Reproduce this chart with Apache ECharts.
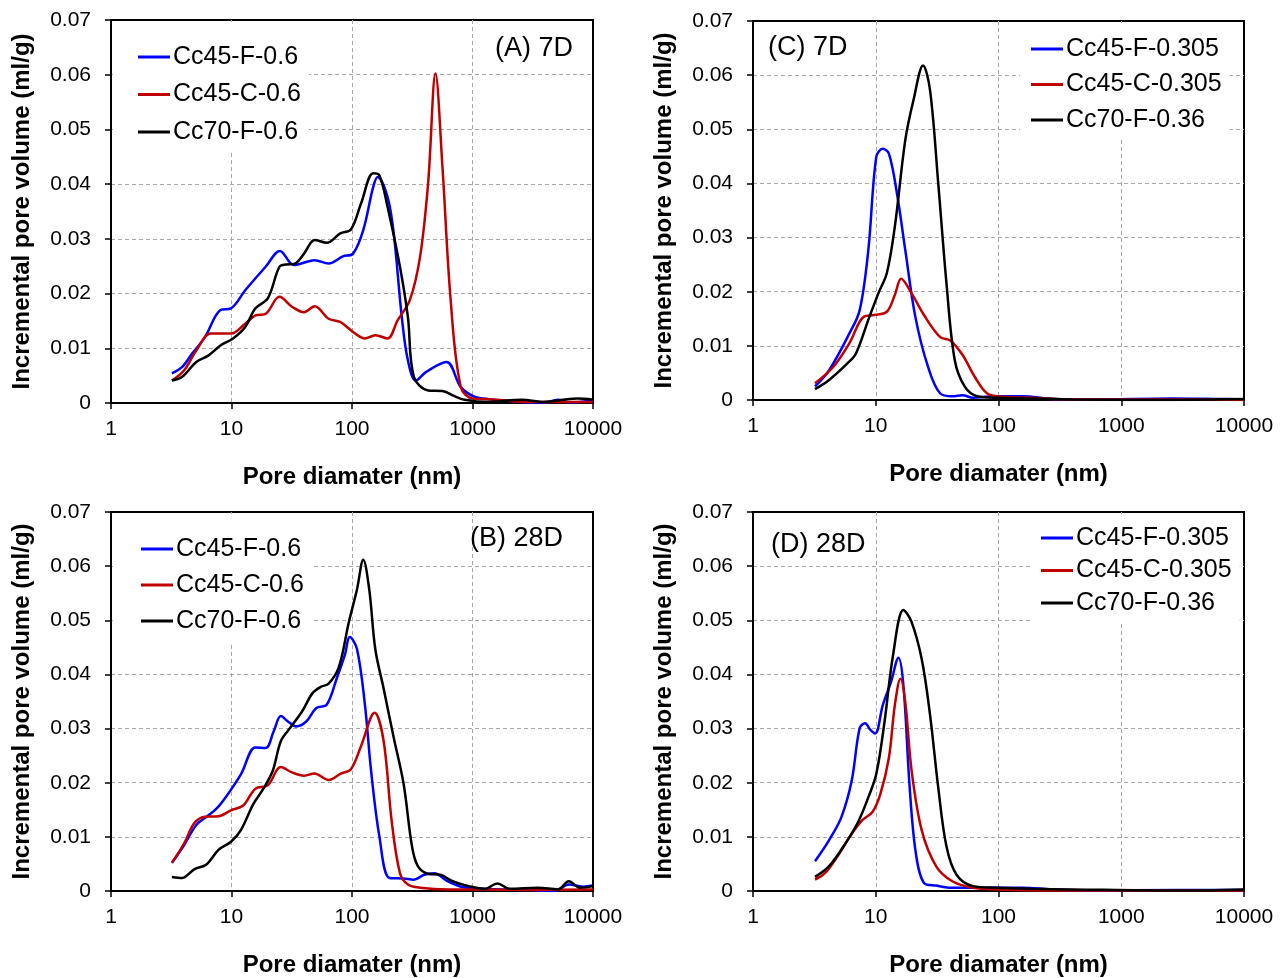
<!DOCTYPE html>
<html>
<head>
<meta charset="utf-8">
<script src="https://cdn.jsdelivr.net/npm/echarts@6/dist/echarts.min.js"></script>
<style>
html,body{margin:0;padding:0;background:#fff;}
#chart{width:1285px;height:978px;}
</style>
</head>
<body>
<div id="chart"></div>
<script>
// ---------- DATA ----------
const xTickLabels = ['1', '10', '100', '1000', '10000'];
const yTickLabels = ['0', '0.01', '0.02', '0.03', '0.04', '0.05', '0.06', '0.07'];

const panelLabels = ['(A) 7D', '(B) 28D', '(C) 7D', '(D) 28D'];
const namesAB = ['Cc45-F-0.6', 'Cc45-C-0.6', 'Cc70-F-0.6'];
const namesCD = ['Cc45-F-0.305', 'Cc45-C-0.305', 'Cc70-F-0.36'];

// Panel A (7D, w/c 0.6)
const A_F = [[3.2,0.0054],[3.9,0.0066],[4.7,0.009],[6.0,0.012],[8.1,0.017],[9.9,0.0173],[13,0.0206],[19.2,0.0249],[25.2,0.0278],[33,0.0252],[49,0.0261],[64,0.0255],[84,0.0268],[102,0.0273],[124,0.0316],[150,0.0395],[163,0.0413],[197,0.0377],[222,0.031],[259,0.0157],[291,0.0078],[339,0.0041],[413,0.0057],[609,0.0075],[800,0.0029],[1050,0.0011],[1380,0.0007],[2570,0.0002],[3800,0.0000],[5130,0.0006],[6470,0.0001],[10000,0.0005]];
const A_C = [[3.2,0.0041],[4.05,0.006],[5.1,0.0096],[6.7,0.0127],[8.1,0.0127],[9.9,0.0127],[13,0.0145],[15.8,0.016],[19.2,0.0163],[25,0.0194],[31.8,0.0176],[40,0.0166],[49,0.0177],[64,0.0154],[80,0.0148],[106,0.0127],[128,0.0118],[156,0.0124],[197,0.0118],[239,0.0151],[302,0.0188],[367,0.0267],[428,0.0401],[493,0.0602],[563,0.0432],[659,0.0188],[800,0.0029],[1010,0.0008],[1380,0.0007],[3000,0.0002],[6470,0.0002],[10000,0.0002]];
const A_70 = [[3.2,0.0041],[3.9,0.0048],[5.1,0.0075],[6.45,0.0087],[8.1,0.0105],[10.3,0.0118],[13,0.0139],[15.8,0.0173],[20,0.0191],[25,0.0249],[28.4,0.0253],[33,0.0254],[40,0.0273],[49,0.0298],[61.7,0.0293],[80,0.031],[98,0.0317],[119,0.0365],[150,0.042],[169,0.0416],[197,0.0359],[250,0.0249],[291,0.0157],[326,0.0048],[428,0.0023],[563,0.0022],[684,0.0014],[860,0.0006],[1380,0.0002],[2570,0.0006],[3800,0.0002],[7370,0.0008],[10000,0.0006]];

// Panel B (28D, w/c 0.6)
const B_F = [[3.2,0.0052],[4.05,0.0085],[5.1,0.0122],[6.2,0.0137],[7.5,0.0152],[9.2,0.0177],[12,0.0216],[15.8,0.0265],[19.2,0.0264],[22.4,0.0295],[25.7,0.0323],[29.4,0.0313],[34.4,0.0304],[41.7,0.0313],[50.6,0.0338],[61.6,0.0344],[74.8,0.0393],[87,0.0435],[96,0.0469],[110,0.0447],[128,0.0344],[144,0.0222],[169,0.01],[205,0.0024],[268,0.0023],[326,0.0021],[397,0.003],[482,0.0033],[609,0.0019],[800,0.0008],[1180,0.0004],[1740,0.0003],[3000,0.0002],[4800,0.0000],[6300,0.0012],[8200,0.0008],[10000,0.001]];
const B_C = [[3.2,0.0052],[4.05,0.0088],[4.9,0.0125],[6.0,0.0137],[7.8,0.0138],[9.9,0.0149],[12.5,0.0158],[15.8,0.0189],[20,0.0195],[25.7,0.0229],[31.8,0.0219],[40,0.0213],[48.7,0.0217],[64,0.0205],[80.6,0.0217],[98,0.0225],[119,0.0268],[154,0.0329],[183,0.0277],[213,0.0131],[250,0.0033],[291,0.0012],[367,0.0006],[634,0.0003],[1380,0.0003],[3000,0.0002],[10000,0.0003]];
const B_70 = [[3.2,0.0026],[3.9,0.0024],[4.9,0.004],[6.2,0.0049],[7.8,0.0076],[9.9,0.0091],[12,0.0113],[15.2,0.0161],[18.4,0.0189],[22,0.0222],[25.7,0.0277],[30.6,0.0301],[38.6,0.0332],[46.9,0.0365],[55,0.0377],[64,0.0383],[77.9,0.0414],[94,0.0496],[110,0.0557],[124,0.0612],[139,0.0557],[156,0.0447],[183,0.0374],[222,0.0283],[268,0.0198],[315,0.0082],[352,0.0046],[428,0.0032],[543,0.003],[684,0.0018],[930,0.0009],[1270,0.0004],[1610,0.0014],[2030,0.0004],[3500,0.0006],[5130,0.0003],[6300,0.0018],[7800,0.0006],[10000,0.0009]];

// Panel C (7D, low w/c)
const C_F = [[3.2,0.0025],[4.17,0.0055],[6.1,0.0123],[7.4,0.0166],[8.7,0.0277],[10.1,0.0449],[11.4,0.0464],[12.8,0.0455],[14.9,0.0381],[17.4,0.0277],[21,0.0154],[26.6,0.0062],[33.5,0.0012],[42,0.0007],[51,0.0009],[62,0.0004],[91,0.0007],[157,0.0007],[270,0.0002],[583,0.0001],[2530,0.0003],[5900,0.0002],[10000,0.0001]];
const C_C = [[3.2,0.0031],[4.5,0.0061],[6.1,0.0105],[8.0,0.0154],[9.7,0.0157],[12.3,0.0163],[14.3,0.0194],[16.1,0.0224],[19.6,0.0197],[24.7,0.0157],[33.5,0.0116],[40.5,0.011],[51,0.0083],[64,0.0043],[81,0.0012],[107,0.0006],[183,0.0004],[396,0.0001],[2750,0.0001],[10000,0.0000]];
const C_70 = [[3.2,0.002],[4.17,0.0037],[5.9,0.0068],[6.9,0.0086],[8.7,0.0148],[10.5,0.0197],[12.3,0.0234],[14.3,0.032],[17.4,0.048],[20.3,0.0554],[24.3,0.0618],[27.7,0.0572],[32.3,0.04],[37.7,0.0215],[44,0.0074],[53,0.0025],[67,0.0007],[98,0.0004],[183,0.0003],[396,0.0001],[1270,0.0000],[10000,0.0002]];

// Panel D (28D, low w/c)
const D_F = [[3.2,0.0055],[4.17,0.0094],[5.26,0.0137],[6.36,0.0203],[7.4,0.0301],[8.2,0.031],[9.0,0.0298],[9.9,0.0291],[11.4,0.0343],[13.3,0.0386],[15.3,0.0431],[16.8,0.038],[18.9,0.0191],[21.2,0.007],[24.7,0.0015],[31,0.001],[42,0.0006],[85,0.0006],[157,0.0006],[270,0.0003],[583,0.0001],[2750,0.0002],[10000,0.0002]];
const D_C = [[3.2,0.0021],[3.86,0.0033],[4.88,0.0064],[6.13,0.01],[7.7,0.013],[9.4,0.0146],[10.9,0.0179],[12.8,0.0246],[14.3,0.0343],[15.9,0.0392],[17.4,0.0349],[19.6,0.0222],[23.7,0.0112],[31,0.0046],[42,0.0018],[62,0.0006],[98,0.0003],[270,0.0001],[10000,0.0001]];
const D_70 = [[3.2,0.0026],[4.17,0.0046],[5.67,0.0088],[7.2,0.0128],[8.7,0.0173],[10.1,0.0216],[11.8,0.0313],[13.8,0.0434],[16.8,0.0519],[19.5,0.0498],[23.7,0.0428],[27.7,0.0325],[32.3,0.0191],[37.7,0.0082],[45.5,0.003],[62,0.0009],[98,0.0006],[183,0.0004],[396,0.0003],[2750,0.0001],[10000,0.0003]];

const colors = ['#0000FF', '#C00000', '#000000'];

// ---------- LAYOUT ----------
const grids = [
  {left: 111, top: 20,  width: 482, height: 383},   // A
  {left: 111, top: 512, width: 482, height: 383},   // B
  {left: 753, top: 21,  width: 491, height: 379},   // C
  {left: 753, top: 512, width: 491, height: 382}    // D
];
const panelSeries = [
  {names: namesAB, data: [A_F, A_C, A_70]},
  {names: namesAB, data: [B_F, B_C, B_70]},
  {names: namesCD, data: [C_F, C_C, C_70]},
  {names: namesCD, data: [D_F, D_C, D_70]}
];
const legendPos = [
  {left: 113, top: 22,  padding: [22, 8, 8, 25], itemGap: 11.5},
  {left: 113, top: 514, padding: [22, 8, 8, 28], itemGap: 10},
  {left: 1020, top: 23, padding: [13, 8, 6, 11], itemGap: 9.5},
  {left: 1030, top: 514, padding: [11, 8, 6, 11], itemGap: 6.5}
];
const labelPos = [[495, 50], [470, 540], [768, 49], [771, 546]];

const FONT = 'Liberation Sans, Arial, sans-serif';

const option = {
  backgroundColor: '#fff',
  animation: false,
  textStyle: {fontFamily: FONT},
  grid: grids.map(g => Object.assign({show: true, borderColor: '#000', borderWidth: 2, backgroundColor: 'transparent', containLabel: false}, g)),
  xAxis: grids.map((g, i) => ({
    type: 'log', logBase: 10, min: 1, max: 10000, gridIndex: i,
    name: 'Pore diamater (nm)', nameLocation: 'middle', nameGap: 62,
    nameTextStyle: {fontSize: 24, fontWeight: 'bold', color: '#000', fontFamily: FONT},
    axisLine: {show: true, onZero: false, lineStyle: {color: '#000', width: 2}},
    axisTick: {show: true, inside: false, length: 6, lineStyle: {color: '#000', width: 1.5}},
    axisLabel: {fontSize: 21, color: '#000', margin: 16, fontFamily: FONT,
      formatter: v => xTickLabels[Math.round(Math.log10(v))]},
    splitLine: {show: true, showMinLine: false, showMaxLine: false, lineStyle: {color: '#A8A8A8', width: 1, type: [4, 3]}},
    minorTick: {show: false}
  })),
  yAxis: grids.map((g, i) => ({
    type: 'value', min: 0, max: 0.07, interval: 0.01, gridIndex: i,
    name: 'Incremental pore volume (ml/g)', nameLocation: 'middle', nameGap: 77, nameRotate: 90,
    nameTextStyle: {fontSize: 24, fontWeight: 'bold', color: '#000', fontFamily: FONT},
    axisLine: {show: true, lineStyle: {color: '#000', width: 2}},
    axisTick: {show: true, inside: false, length: 6, lineStyle: {color: '#000', width: 1.5}},
    axisLabel: {fontSize: 21, color: '#000', margin: 20, fontFamily: FONT,
      formatter: v => yTickLabels[Math.round(v * 100)]},
    splitLine: {show: true, showMinLine: false, showMaxLine: false, lineStyle: {color: '#A8A8A8', width: 1, type: [4, 3]}}
  })),
  legend: legendPos.map((p, i) => ({
    orient: 'vertical', left: p.left, top: p.top, padding: p.padding, itemGap: p.itemGap,
    backgroundColor: '#fff', selectedMode: false,
    icon: 'rect', itemWidth: 32, itemHeight: 3,
    data: panelSeries[i].names,
    textStyle: {fontSize: 25, lineHeight: 26, color: '#000', fontFamily: FONT, padding: [0, 0, 0, -2]}
  })),
  graphic: labelPos.map((p, i) => ({
    type: 'text', left: p[0], top: p[1] - 15, z: 10,
    style: {text: panelLabels[i], fontSize: 27, fontFamily: FONT, fill: '#000'}
  })),
  series: []
};

panelSeries.forEach((ps, i) => {
  ps.data.forEach((d, k) => {
    option.series.push({
      type: 'line', name: ps.names[k], xAxisIndex: i, yAxisIndex: i,
      data: d, showSymbol: false, symbol: 'none', smooth: 0.35,
      lineStyle: {color: colors[k], width: 2.5}, itemStyle: {color: colors[k]}
    });
  });
});

const chart = echarts.init(document.getElementById('chart'), null, {renderer: 'canvas'});
chart.setOption(option);
</script>
</body>
</html>
